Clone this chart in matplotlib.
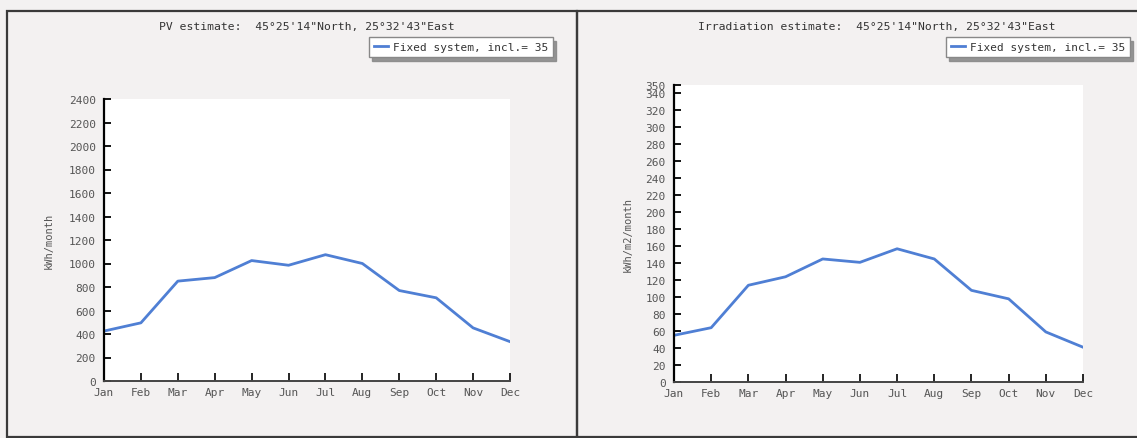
#!/usr/bin/env python3
# -*- coding: utf-8 -*-

import matplotlib
matplotlib.use('Agg')
import matplotlib.pyplot as plt
from matplotlib.patches import Rectangle

# 月份
months = ['Jan', 'Feb', 'Mar', 'Apr', 'May', 'Jun',
          'Jul', 'Aug', 'Sep', 'Oct', 'Nov', 'Dec']

# 左图: PV 月发电量 (kWh/month)
pv_monthly = [425, 495, 850, 880, 1025, 985, 1075, 1000, 770, 708, 452, 335]
pv_yticks = [0, 200, 400, 600, 800, 1000, 1200, 1400, 1600, 1800, 2000, 2200, 2400]

# 右图: 月辐照量 (kWh/m2/month)
irr_monthly = [55, 64, 114, 124, 145, 141, 157, 145, 108, 98, 59, 41]
irr_yticks = [0, 20, 40, 60, 80, 100, 120, 140, 160, 180, 200,
              220, 240, 260, 280, 300, 320, 340, 350]

pv_title = 'PV estimate:  45°25\'14"North, 25°32\'43"East'
irr_title = 'Irradiation estimate:  45°25\'14"North, 25°32\'43"East'
legend_label = 'Fixed system, incl.= 35'

W, H = 1137, 439
BG = '#f3f1f1'
LINE = '#4f7fd4'
TXT = '#555555'
FONT = 'DejaVu Sans Mono'


def fx(px):
    return px / W


def fy(py):
    return 1 - py / H


def draw_panel(fig, frame, ax_box, values, yticks, ylim, title, ylabel,
               leg_x, title_x, ylabel_x, ypad):
    """画一个面板: 外框, 标题, 坐标轴, 图例"""
    x0, x1 = frame
    fig.add_artist(Rectangle((fx(x0), fy(438)), fx(x1 - x0), (438 - 12) / H,
                             transform=fig.transFigure, fill=False,
                             edgecolor='#3a3a3a', linewidth=1.6))

    fig.text(fx(title_x), fy(27), title, ha='center', va='center',
             fontsize=8.2, family=FONT, color='#333333')

    left, top, right, bottom = ax_box
    ax = fig.add_axes([fx(left), fy(bottom), fx(right - left), (bottom - top) / H])
    ax.set_facecolor('white')
    x = list(range(len(months)))
    line, = ax.plot(x, values, color=LINE, linewidth=2, label=legend_label)

    ax.set_xlim(0, len(months) - 1)
    ax.set_ylim(*ylim)
    ax.set_xticks(x)
    ax.set_xticklabels(months)
    ax.set_yticks(yticks)

    for side in ('top', 'right'):
        ax.spines[side].set_visible(False)
    ax.spines['left'].set_linewidth(1.6)
    ax.spines['bottom'].set_linewidth(1.4)
    ax.spines['bottom'].set_color('#444444')

    ax.tick_params(axis='y', direction='in', length=5, width=1.3, pad=ypad,
                   labelsize=8, labelcolor=TXT)
    ax.tick_params(axis='x', direction='in', length=6, width=1.2, pad=4,
                   labelsize=8, labelcolor=TXT)
    for lab in ax.get_xticklabels() + ax.get_yticklabels():
        lab.set_family(FONT)

    # 纵轴标题, 放在刻度文字左侧
    ax.set_ylabel(ylabel, fontsize=7.5, family=FONT, color=TXT)
    ax.yaxis.set_label_coords(ylabel_x, 0.5)

    leg = fig.legend(handles=[line], loc='upper left',
                     bbox_to_anchor=(fx(leg_x), fy(38)), bbox_transform=fig.transFigure,
                     borderaxespad=0, handlelength=1.3, handletextpad=0.4,
                     borderpad=0.45, frameon=True, fancybox=False,
                     shadow={'ox': 2, 'oy': -3, 'color': '#8a8a8a', 'alpha': 0.9},
                     prop={'family': FONT, 'size': 8})
    leg.get_frame().set_edgecolor('#888888')
    leg.get_frame().set_linewidth(1.0)
    for t in leg.get_texts():
        t.set_color('#333333')
    return ax


def main():
    fig = plt.figure(figsize=(W / 100, H / 100), dpi=100)
    fig.patch.set_facecolor(BG)

    # 左: PV 发电量
    draw_panel(fig, (7, 577), (104, 100, 510, 382), pv_monthly, pv_yticks,
               (0, 2400), pv_title, 'kWh/month', 369, 307, -0.125, 6)

    # 右: 辐照量
    draw_panel(fig, (577, 1150), (674, 86, 1083, 383), irr_monthly, irr_yticks,
               (0, 350), irr_title, 'kWh/m2/month', 946, 877, -0.1, 6)

    plt.savefig('out.png', dpi=100, facecolor=fig.get_facecolor())
    plt.close()


if __name__ == '__main__':
    main()
